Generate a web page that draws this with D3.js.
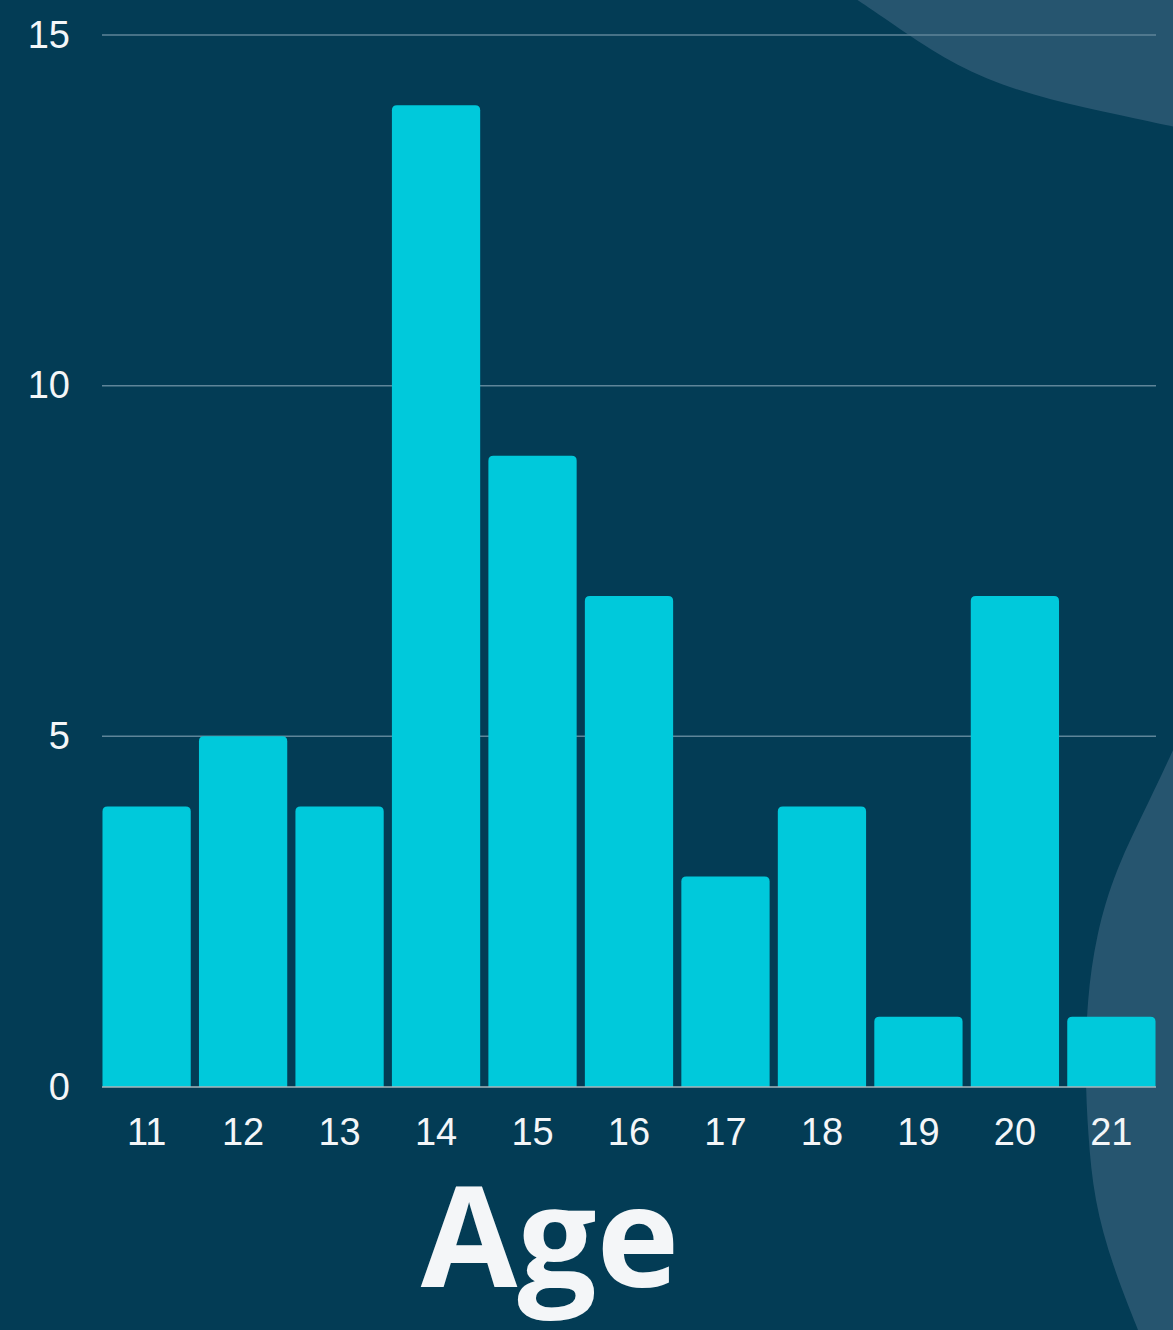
<!DOCTYPE html>
<html>
<head>
<meta charset="utf-8">
<script src="https://cdn.jsdelivr.net/npm/d3@7"></script>
<style>
  html, body { margin: 0; padding: 0; background: #033c55; }
  svg { display: block; }
</style>
</head>
<body>
<svg id="chart" width="1173" height="1330"></svg>
<script>
// Respondent counts by age
const ages = ["11", "12", "13", "14", "15", "16", "17", "18", "19", "20", "21"];
const counts = [4, 5, 4, 14, 9, 7, 3, 4, 1, 7, 1];
const yTicks = [0, 5, 10, 15];
const axisTitle = "Age";

const W = 1173, H = 1330;
const margin = { top: 35, right: 17, bottom: 243, left: 102 };
const svg = d3.select("#chart");

// Decorative background shapes
const blobLine = d3.line().curve(d3.curveBasis);
svg.append("path")
  .attr("d", blobLine([[850, -5], [880, 15], [930, 50], [985, 80], [1050, 100], [1120, 115], [1180, 128]]) + "L1180,-5Z")
  .attr("fill", "#26556f");
svg.append("path")
  .attr("d", blobLine([[1180, 735], [1150, 800], [1115, 870], [1096, 935], [1087, 1000], [1085, 1070], [1088, 1135], [1094, 1200], [1112, 1265], [1140, 1335]]) + "L1180,1335Z")
  .attr("fill", "#26556f");

const x = d3.scaleBand()
  .domain(ages)
  .range([margin.left, W - margin.right])
  .paddingInner(0.085)
  .paddingOuter(0.005);

const y = d3.scaleLinear()
  .domain([0, 15])
  .range([H - margin.bottom, margin.top]);

// Horizontal gridlines
svg.append("g")
  .selectAll("line")
  .data(yTicks.filter(d => d > 0))
  .join("line")
  .attr("x1", margin.left)
  .attr("x2", W - margin.right)
  .attr("y1", d => y(d))
  .attr("y2", d => y(d))
  .attr("stroke", "#5f8599")
  .attr("stroke-width", 1.5);

// Bars with rounded top corners
const r = 5;
function barPath(d, i) {
  const x0 = x(ages[i]), w = x.bandwidth();
  const yt = y(d), yb = y(0);
  return `M${x0},${yb}V${yt + r}Q${x0},${yt} ${x0 + r},${yt}H${x0 + w - r}Q${x0 + w},${yt} ${x0 + w},${yt + r}V${yb}Z`;
}
svg.append("g")
  .selectAll("path")
  .data(counts)
  .join("path")
  .attr("d", barPath)
  .attr("fill", "#00c9db");

// Baseline
svg.append("line")
  .attr("x1", margin.left)
  .attr("x2", W - margin.right)
  .attr("y1", y(0))
  .attr("y2", y(0))
  .attr("stroke", "#a9b4ba")
  .attr("stroke-width", 1.5);

const font = "'Liberation Sans', 'Open Sans', sans-serif";

// Y axis labels
const yAxis = d3.axisLeft(y).tickValues(yTicks).tickSize(0).tickPadding(32);
svg.append("g")
  .attr("transform", `translate(${margin.left},0)`)
  .call(yAxis)
  .call(g => g.select(".domain").remove())
  .selectAll("text")
  .attr("fill", "#f4f6f8")
  .attr("font-family", font)
  .attr("font-size", 38);

// X axis labels
const xAxis = d3.axisBottom(x).tickSize(0).tickPadding(31);
svg.append("g")
  .attr("transform", `translate(0,${y(0)})`)
  .call(xAxis)
  .call(g => g.select(".domain").remove())
  .selectAll("text")
  .attr("fill", "#f4f6f8")
  .attr("font-family", font)
  .attr("font-size", 38);

// Axis title
svg.append("text")
  .attr("x", (margin.left + W - margin.right) / 2 - 79)
  .attr("y", 1287)
  .attr("text-anchor", "middle")
  .attr("fill", "#f4f6f8")
  .attr("font-family", "'Open Sans', sans-serif")
  .attr("font-weight", 700)
  .attr("font-size", 140)
  .text(axisTitle);
</script>
</body>
</html>
